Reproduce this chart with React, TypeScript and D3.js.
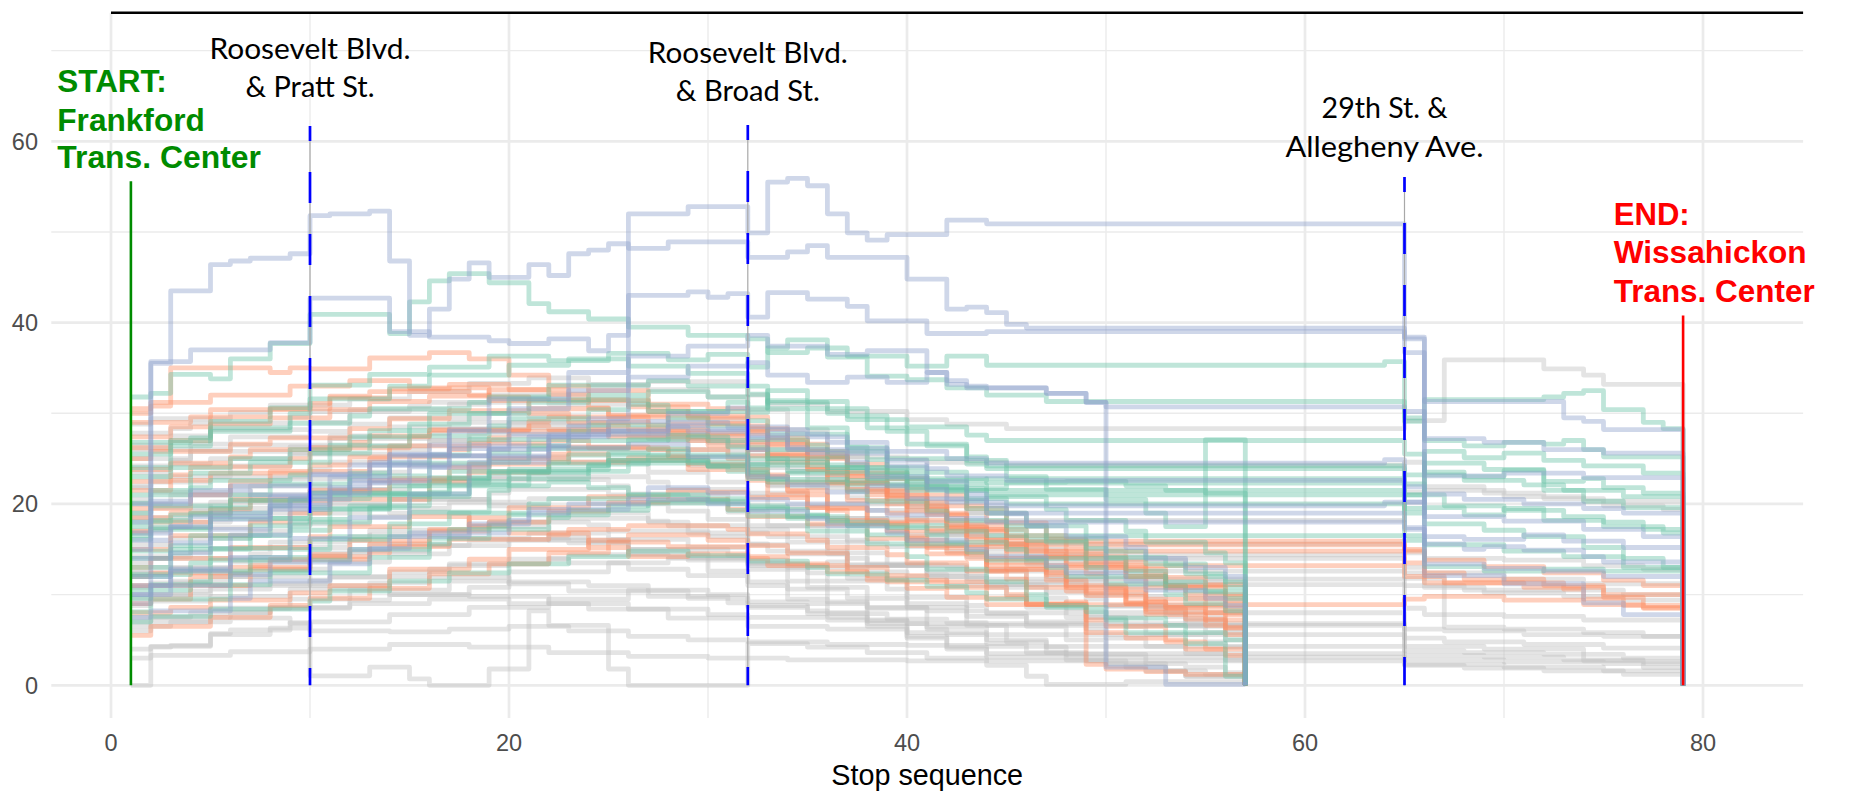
import React from "react";
import * as d3 from "d3";

type Pt = [number, number];

// ---------- axis ticks ----------
const xMajor = [0, 20, 40, 60, 80];
const xMinor = [10, 30, 50, 70];
const yMajor = [0, 20, 40, 60];
const yMinor = [10, 30, 50, 70];

// ---------- key stops ----------
const startStop = 1;
const endStop = 79;
const shortEnd = 57;
const keyStops = [10, 32, 65];

// ---------- trips: [stop, load after stop] change points ----------
const longBlue: Pt[][] = [
  [[1,12],[3,14.6],[5,17.2],[8,19.4],[11,21.8],[13,24.3],[17,26.1],[20,27.7],[23,28.6],[24,29.4],[26,52],[29,52.8],[32,49.9],[33,55.5],[34,55.9],[35,55.1],[36,52],[37,49.9],[38,49.1],[39,49.7],[42,51.3],[44,50.9],[65,38.2],[66,15.6],[68,15],[69,15.3],[71,14.9],[74,14.2],[75,13.6]],
  [[1,9],[2,35.5],[3,43.5],[5,46.4],[6,46.8],[7,47.1],[9,47.6],[10,51.8],[11,52],[13,52.3],[14,46.8],[15,38.6],[16,41.5],[17,44.8],[18,46.6],[19,45],[21,46.4],[22,45.2],[23,47.6],[24,48],[25,48.7],[26,48.2],[28,48.9],[32,47.2],[34,47.8],[35,48.5],[36,47.2],[40,44.8],[42,41.5],[43,41.7],[44,41.1],[45,39.8],[46,39.4],[65,36.7],[66,31.3],[73,29.5],[74,29.1],[75,28.2]],
  [[1,15],[2,35.7],[4,37],[8,37.8],[10,42.7],[14,39],[16,38.4],[19,38],[20,37.7],[22,38.2],[24,36.9],[25,38.6],[26,43],[29,43.4],[30,42.8],[31,43.2],[32,40.6],[33,43.3],[35,42.6],[37,41.8],[38,40.2],[41,38.8],[44,39],[65,38.4],[66,27.2],[69,26.8],[72,26],[75,25.6]],
  [[1,11],[3,12.8],[6,16.6],[9,20.5],[12,22.3],[14,25.4],[17,28.2],[19,31.6],[23,34.5],[26,36.3],[29,37.4],[32,38.6],[33,37.4],[36,36.5],[38,36.9],[41,34.5],[42,33.2],[43,32.8],[47,32.2],[49,31.2],[50,30.7],[65,30.2],[66,23.1],[70,23.4],[74,22.9]],
  [[1,14],[3,15.7],[5,18.3],[8,19.8],[10,21.2],[13,22.4],[15,24.1],[19,26],[22,27.4],[25,28.1],[28,29],[31,28.4],[32,26],[33,28.2],[35,27.4],[37,26.1],[39,24.2],[41,22.5],[43,21.1],[44,19.8],[64,20.2],[66,21.1],[68,20.5],[71,20],[74,19.5],[76,19]],
  [[1,18],[2,20.3],[4,21.5],[7,21],[10,23.3],[13,24.6],[16,26.5],[19,25.1],[22,26.2],[26,26.6],[29,25.2],[32,23],[34,22.1],[36,21.3],[38,22],[40,20.6],[44,19],[65,17.2],[66,12.1],[70,11.2],[74,9.1],[76,7.8]],
  [[1,10],[3,12.6],[6,14.1],[9,16.2],[12,18.5],[15,21.1],[18,24.6],[22,27.6],[25,29.1],[28,30],[31,30.6],[32,28.5],[34,27.7],[36,26.8],[39,25.8],[42,25],[44,24.5],[64,24.9],[65,20.2],[66,18.6],[70,18.1],[74,17.2],[77,16.4]],
  [[1,16.8],[3,17.5],[4,18.6],[8,19.9],[11,21.3],[12,22.6],[16,24],[17,25.3],[22,26.4],[23,27.7],[28,28.5],[29,28],[32,27.3],[34,26.2],[35,25.6],[39,24.8],[41,23.9],[42,23.1],[45,22.6],[65,21.9],[66,16.4],[68,16.1],[71,16.6],[73,15.9],[76,15.2]],
  [[1,7.5],[2,8.2],[6,9.6],[7,11.5],[11,13.4],[13,15.1],[15,16.8],[20,18.2],[21,19.4],[26,20.6],[27,21.8],[30,21.2],[32,20.5],[34,20],[38,19.3],[39,18.8],[42,18.4],[44,18],[65,17.4],[66,13.4],[69,12.9],[72,12.6],[75,12]],
];

const longGreen: Pt[][] = [
  [[1,31.8],[2,32.2],[3,34.3],[5,33.8],[6,36],[8,37.7],[10,40.9],[14,38.8],[15,42.3],[16,44.6],[17,45.4],[19,44.4],[21,42.1],[22,41.2],[24,40.4],[26,39.5],[29,38.6],[32,38.2],[33,36.7],[35,37.2],[37,36.3],[40,35.2],[42,36.3],[44,35.3],[64,35.7],[65,29.5],[66,31.5],[72,31.8],[73,32.2],[74,32.5],[75,30.4],[77,29],[78,28.3]],
  [[1,24],[3,26.4],[5,29.1],[8,30.6],[10,33.1],[13,34.3],[16,35.1],[19,36.3],[22,35.8],[25,36.6],[28,35.9],[30,36.5],[32,35.1],[33,37.2],[34,38.1],[36,36.2],[38,34.1],[40,33.7],[42,32.8],[44,32],[47,31.3],[65,29.1],[66,27],[68,26.4],[70,26.8],[72,26.6],[73,27],[74,26],[75,25.2]],
  [[1,20.1],[2,21.5],[4,23.4],[7,24.6],[11,26.5],[13,28.1],[16,30],[20,31.6],[22,33.1],[27,33.6],[29,33],[32,32.1],[33,31.2],[36,30],[37,29.3],[40,28.5],[43,27.6],[44,27],[65,25.5],[66,23.5],[68,23],[70,23.7],[72,22.5],[74,22.8],[75,21.8],[77,21.2]],
  [[1,16.1],[2,17.4],[5,19.5],[6,20.4],[10,21.2],[12,23.1],[16,25.4],[18,27.1],[23,28],[24,28.7],[28,29.5],[30,28.6],[32,27.1],[35,26.5],[36,25.8],[39,25],[43,24.4],[44,23.9],[65,21],[67,19.8],[70,19.3],[73,18.6],[75,18],[77,17.2]],
  [[1,13],[3,14.6],[4,16.5],[8,18.4],[10,19.4],[14,21.1],[17,22.8],[19,24.6],[21,26.1],[26,27.1],[29,27.4],[31,26.3],[32,25],[34,24.3],[38,23.5],[40,22.8],[44,22.3],[65,19.5],[66,17.8],[69,17.1],[71,16.4],[74,15.2],[76,14],[78,13]],
  [[1,9.6],[2,11.1],[6,12.4],[7,14.1],[10,16.1],[14,17.8],[15,19.1],[19,21.5],[20,22.8],[24,23.6],[26,24.5],[30,24.1],[32,23.5],[33,22.7],[37,22.2],[41,21.9],[43,21.5],[65,21],[66,24.5],[69,23.8],[72,21.5],[74,20.3],[76,19.6]],
  [[1,12.2],[4,13.5],[5,15.1],[9,17.1],[11,19.5],[14,21.1],[18,22.5],[20,23.8],[25,25.6],[27,26.1],[29,25.4],[32,24.3],[34,23.6],[38,22.8],[40,21.5],[44,21],[65,16.5],[66,15.5],[70,14.8],[73,14.2],[76,13]],
  [[1,8.1],[2,9.5],[6,11.1],[8,12.4],[13,14.1],[16,15.6],[17,17.2],[22,18.5],[23,19.3],[27,20.1],[31,19.3],[32,18.7],[36,18.2],[37,17.6],[42,17],[44,16.5],[65,16],[66,13.1],[69,12.6],[72,12.8],[75,12.6]],
  [[1,17.5],[2,18.2],[4,19],[8,19.8],[9,20.6],[13,21.2],[14,22],[18,22.6],[19,23.4],[24,24.2],[25,24.8],[30,24.2],[31,23.6],[32,22.8],[34,23.4],[37,22.6],[39,22],[42,21.4],[43,20.6],[45,20],[65,19],[66,23.2],[68,22.6],[71,22.1],[73,21.5],[76,20.8]],
  [[1,14.8],[3,15.4],[5,16.2],[7,17.6],[10,18.3],[12,19.8],[16,21.3],[17,22.1],[21,23.5],[22,24.4],[27,25.3],[29,24.6],[32,23.8],[33,24.6],[36,24],[38,23.2],[40,22.6],[44,22.8],[65,22.2],[66,19.6],[68,18.8],[70,19.5],[72,18.2],[75,17.5],[78,16.8]],
  [[1,21],[4,21.8],[5,22.6],[9,23.2],[10,25.6],[13,26.4],[15,27.5],[19,28.6],[20,29.4],[24,30.4],[26,31],[27,30.2],[31,31.2],[32,30.1],[33,31.4],[35,30.5],[38,28.4],[40,26.6],[43,25.2],[44,24.2],[65,23.2],[66,25.8],[68,25.1],[70,25.6],[72,24.8],[74,24.2],[77,23.4]],
];

const longGrey: Pt[][] = [
  [[1,26.5],[3,27.5],[5,28.2],[10,29],[12,30.4],[17,31],[19,32],[24,33],[27,33.5],[32,32],[33,31],[36,30.2],[40,29.3],[42,28.8],[45,28.3],[65,29.2],[67,35.9],[72,34.9],[74,34.2],[75,33.2]],
  [[1,22],[2,23],[6,24.2],[9,25.5],[14,26],[16,27],[20,27.5],[22,28],[26,27.5],[28,27],[31,25.5],[32,24],[35,23],[37,21.6],[39,20.5],[43,19],[45,18.2],[65,21.3],[66,21.5],[70,20.8],[74,20.3]],
  [[1,25],[4,26],[6,26.5],[11,27.5],[14,28.5],[17,29],[23,28.6],[25,27.6],[29,26],[32,24.5],[33,22],[36,20],[38,18.3],[41,16.8],[42,15.4],[44,14],[65,13],[66,12.4],[70,11.7],[74,11.2]],
  [[1,6],[2,7],[5,8.5],[9,9.5],[12,10.5],[17,11.5],[20,12.5],[25,13.5],[28,14],[32,13.5],[34,13],[38,12.5],[40,12],[44,11.7],[65,11],[68,10.5],[72,10.5],[76,10]],
  [[1,20],[3,21],[7,22],[11,21],[14,20.5],[19,19.8],[22,19],[27,18],[29,16.8],[32,15.5],[34,14.5],[37,13.2],[41,12],[43,11.4],[45,11.1],[65,8.5],[66,7.8],[70,7.6],[74,7.2]],
  [[1,4],[2,4.3],[5,5.6],[8,6.3],[10,7],[14,7.8],[18,8.6],[22,9.5],[26,10.5],[30,10],[32,9.2],[35,9],[38,8.5],[41,8.2],[44,8],[65,6.2],[67,6],[71,5.6],[75,5.4]],
  [[1,11],[3,11.5],[6,12],[10,11],[14,10],[18,9.8],[22,9],[26,8.4],[30,7.8],[32,7.5],[36,7.2],[40,6.8],[44,6.6],[65,4.3],[69,4],[74,2.7],[77,1.95]],
  [[1,7.5],[4,8],[8,8.5],[12,9],[16,9.5],[20,9],[24,8.4],[28,7.4],[32,6.5],[36,6.2],[40,5.8],[44,5.6],[65,3.8],[68,3.6],[72,3.4],[76,3]],
  [[1,0],[2,4.2],[3,4.4],[5,5.7],[6,6.1],[9,6.9],[10,6],[14,5.9],[17,6.2],[20,6.5],[23,6],[26,5.4],[29,5],[32,4.8],[36,4.5],[40,4.4],[44,4.3],[65,3.3],[69,3.1],[73,2.8],[77,2.6]],
  [[1,3],[2,3.3],[6,3.7],[10,4],[14,4.5],[18,4.2],[22,3.6],[26,3.2],[30,3],[34,2.8],[40,2.7],[65,2.3],[70,2],[75,1.6]],
  [[1,17],[3,18],[6,19.5],[10,20],[14,19],[18,17.5],[22,16],[26,14.5],[30,12.6],[32,11],[34,9.5],[36,8],[38,6.5],[40,5.2],[42,4.2],[44,3.5],[65,2.8],[70,2.6],[75,2.4]],
  [[1,13.5],[2,14],[7,14.5],[8,15.2],[12,16],[13,16.6],[18,17.3],[19,18],[22,18.4],[27,18.1],[28,17.6],[32,16.8],[33,16.4],[37,15.8],[39,15.3],[42,14.8],[44,14.4],[65,12.4],[66,10.8],[69,10.2],[73,9.8],[76,9.4]],
  [[1,24.2],[3,24.8],[4,25.8],[9,26.3],[11,27.2],[16,27.8],[17,28.3],[20,28.9],[25,28.2],[26,27.6],[30,26.8],[32,26],[35,25.8],[36,25.2],[40,24.9],[41,24.6],[45,24.3],[65,24.6],[66,21.9],[69,21.2],[72,20.6],[75,19.8],[78,19.4]],
  [[1,10],[4,10.4],[5,11],[10,11.6],[11,12],[16,12.8],[17,13.4],[22,14],[23,14.4],[28,14.1],[29,13.8],[32,13.2],[36,13.6],[37,13.3],[42,13],[43,12.6],[65,11.8],[67,6.4],[70,6.2],[74,5.8],[77,5.4]],
  [[1,19],[2,19.6],[6,20.4],[7,21],[10,21.6],[15,22.4],[16,22.8],[21,23.3],[22,23],[27,22.4],[28,21.6],[32,20.8],[33,19.6],[35,18.4],[39,17.4],[40,16.6],[44,16],[45,15.6],[65,14.6],[66,14],[70,13.8],[74,13.2],[77,12.8]],
  [[1,12.4],[3,12.9],[6,13.8],[10,14.6],[13,15.5],[17,16.2],[21,16.8],[25,16.1],[29,15.2],[32,13.8],[34,11.5],[36,9.2],[38,7.1],[40,5.4],[42,4],[44,3.1],[65,2.2],[68,1.9],[72,1.6],[76,1.2]],
  [[1,8.8],[2,9.3],[5,9.8],[9,10.6],[13,11.3],[16,11.9],[20,11.2],[23,10.4],[27,9.8],[31,9.1],[32,8.6],[35,7.9],[39,7.3],[42,6.9],[44,6.8],[65,5.2],[67,4.8],[71,4.5],[75,4.1]],
];

const longOrange: Pt[][] = [
  [[1,30.5],[2,30.8],[3,35],[8,34.5],[9,35],[10,34.9],[13,36.1],[16,36.7],[18,36],[20,34.2],[22,33],[24,32.5],[27,31],[30,30.5],[32,29.6],[33,27.3],[35,25.3],[37,23],[39,21],[41,19],[43,17],[45,15.5],[65,14.8],[66,11.3],[73,10.6],[74,9.5],[76,8.8]],
  [[1,27.4],[3,28.5],[5,29.6],[8,30.5],[11,31.7],[14,32.7],[17,33.2],[20,32.6],[23,31.5],[26,30.7],[29,29.5],[32,28.3],[34,26],[36,23.5],[38,21.4],[40,19.7],[42,17.5],[44,16],[45,14.8],[65,13.5],[66,12.4],[68,11.7],[72,11],[75,9.7],[77,8.5]],
  [[1,18.5],[3,19],[6,20.5],[10,21.5],[14,22.8],[18,23.5],[22,24.6],[26,25.1],[30,24.2],[32,23.2],[34,21.5],[36,19.5],[38,17.8],[40,16],[42,14.6],[44,13.2],[65,12],[67,11.3],[71,10.8],[75,10]],
  [[1,5.5],[2,6.5],[5,7.5],[8,8.8],[10,9.6],[13,10.7],[16,12.3],[19,13.4],[22,14.6],[25,15.8],[28,15.3],[32,14.2],[34,13.4],[36,12.5],[38,11.6],[40,10.7],[42,9.7],[44,8.9],[65,9.5],[66,9.8],[70,9.4],[74,8.9],[77,8.6]],
  [[1,22.5],[3,23.2],[4,24.1],[9,25],[10,26.2],[15,27.4],[16,28.2],[21,29.1],[22,29.6],[27,28.7],[28,27.8],[32,26.9],[33,25.4],[35,23.8],[37,22.3],[39,20.6],[41,18.8],[43,17.2],[45,15.9],[65,15],[66,13.8],[69,13.1],[72,12.4],[75,11.6],[77,11]],
];

const shortBlue: Pt[][] = [
  [[1,16],[3,17.5],[5,19],[8,20.8],[11,23],[14,25.5],[17,28],[20,30.5],[23,32.5],[26,34],[29,35.2],[32,35.6],[33,34.2],[35,33.4],[37,34],[39,33.4],[41,34.5],[42,33.6],[43,33],[44,32.8],[47,32.2],[49,31.2],[50,2],[53,0.1]],
  [[1,10],[2,11],[6,12.2],[8,13.6],[12,15],[14,16.4],[18,17.8],[21,19],[23,20],[27,20.5],[30,20],[32,19.2],[35,18.4],[36,17.6],[39,16.8],[40,16],[43,15],[44,14.2],[47,13.2],[48,12.4],[51,11.5],[52,10.5],[55,9.6],[56,8.8]],
  [[1,20],[4,21],[6,22],[10,23.2],[12,24.3],[15,25.3],[19,26.4],[21,27.4],[24,28],[28,28.6],[30,28.2],[32,27.6],[34,26],[37,24.6],[38,23],[41,21.6],[42,20.2],[45,18.9],[46,17.6],[48,16.4],[51,15.2],[52,14],[54,13],[56,12]],
];

const shortGreen: Pt[][] = [
  [[1,23],[3,24],[6,25],[9,26],[12,27.4],[15,28.8],[18,30],[21,31.2],[24,32],[27,32.4],[30,31.8],[32,30.6],[33,32.5],[35,31.3],[37,29.7],[39,28],[41,26.4],[43,24.8],[45,23],[47,21.6],[50,20.5],[52,19],[53,17.5],[55,27.1]],
  [[1,16.5],[2,17.2],[5,18.4],[10,19.6],[11,21],[16,22.4],[17,23.6],[22,24.6],[23,25.4],[28,25.8],[29,25.2],[32,24.4],[33,26],[36,25.2],[37,24],[40,23],[41,22.3],[43,21.7],[45,22.4],[48,22.5],[51,22],[53,21.5],[55,21.2]],
  [[1,10.5],[4,11.4],[5,12.6],[10,13.8],[12,15],[16,16.2],[19,17.6],[20,18.8],[25,19.8],[27,20.4],[31,20],[32,19.4],[35,18.8],[36,18],[39,17.4],[41,16.6],[42,15.8],[45,15],[46,14],[49,13],[50,12],[53,11],[54,10.4],[56,9.6]],
  [[1,14],[3,15],[7,16.5],[9,18],[13,19.6],[15,20.8],[18,22],[22,22.4],[24,21.8],[26,21],[30,20.3],[32,19.6],[34,18.6],[37,17.6],[38,16.6],[40,15.6],[43,14.7],[44,13.8],[47,13],[48,12],[50,11.2],[53,10],[54,9],[56,8.2]],
  [[1,19],[2,19.8],[6,21],[8,22.2],[12,23.4],[14,24.5],[19,25.6],[21,26.4],[23,27],[28,27.6],[30,27],[32,26.2],[33,25],[36,24],[39,23],[40,21.8],[43,20.4],[44,19],[46,17.6],[49,16.2],[50,14.8],[52,13.4],[55,12],[56,10.8]],
  [[1,12],[3,12.6],[5,13.8],[9,15],[11,16.4],[15,17.8],[17,19],[21,20],[22,20.6],[26,21],[29,20.6],[32,19.8],[34,18.4],[35,17],[38,15.6],[40,14.2],[41,12.8],[44,11.4],[46,10],[47,8.6],[50,7.2],[51,5.8],[54,4.6],[56,1]],
  [[1,18],[3,18.8],[6,19.6],[7,20.4],[10,21.2],[15,22],[16,22.9],[19,23.6],[24,24.3],[25,24.8],[30,24.2],[32,23.3],[33,22.4],[37,21.4],[38,20.3],[41,19.2],[42,18.2],[45,17.1],[46,16],[49,15.1],[50,14.1],[53,13.2],[54,12.3],[56,11.4]],
  [[1,26.8],[4,27.3],[5,28],[9,28.9],[12,29.7],[13,30.5],[18,31.2],[19,31.8],[22,31.5],[27,30.9],[28,30.2],[32,29.2],[33,27.7],[37,26.3],[38,24.9],[39,23.5],[43,22.1],[44,20.8],[47,19.4],[48,18.2],[51,17],[52,15.8],[55,14.6],[56,13.5]],
  [[1,7],[2,7.6],[5,8.4],[10,9.3],[11,10.4],[14,11.5],[17,12.4],[20,13.4],[23,14.2],[26,14.8],[29,14.3],[32,13.7],[35,13],[36,12.3],[39,11.6],[41,10.9],[43,10.2],[44,9.5],[47,8.8],[49,8.1],[50,7.4],[53,6.6],[54,5.8],[56,5]],
  [[1,25.5],[3,27],[5,28.4],[9,30],[10,31.6],[14,33],[16,34.2],[20,35.3],[23,36],[26,35.2],[29,34.4],[32,33],[33,30.5],[35,28.4],[37,26.2],[39,24],[41,21.6],[43,19.5],[45,17.6],[47,15.8],[49,14],[51,12.6],[53,11.4],[55,10.3]],
];

const shortGrey: Pt[][] = [
  [[1,23.5],[3,24.4],[5,25],[9,25.6],[11,26.4],[16,27],[18,27.8],[20,28.4],[25,28],[27,27.2],[31,26.4],[32,25.4],[34,23.6],[35,21.8],[38,20],[40,18.4],[41,16.8],[44,15],[46,13.4],[47,12],[50,10.8],[52,9.8],[53,8.8],[56,8.2]],
  [[1,20.5],[2,21.3],[6,22],[8,22.8],[13,23.5],[15,24.3],[19,25],[21,25.2],[23,24.6],[27,23.5],[30,22.4],[32,21.2],[35,19.8],[36,18.4],[39,17],[40,15.6],[43,14.2],[44,12.7],[46,11.4],[49,10],[50,8.7],[53,7.6],[54,6.5],[56,5.8]],
  [[1,26],[4,26.6],[6,27.4],[10,28],[12,28.8],[14,29.5],[19,30],[21,29.6],[24,29],[26,28.4],[30,27.6],[32,26.7],[33,25],[36,23.2],[37,21.4],[40,19.7],[42,18],[45,16.4],[46,15],[48,13.7],[51,12.4],[52,11.3],[55,10.2],[56,9.4]],
  [[1,6.5],[3,7],[6,7.4],[9,6.8],[10,1.05],[13,2],[15,0.7],[16,0],[19,1.8],[21,8.2],[22,6.6],[25,1.8],[26,0],[32,4.6],[35,4.2],[38,3.6],[41,3],[44,2.2],[46,1],[47,0.1],[51,0.4]],
  [[1,7],[2,7.5],[6,8],[8,8.6],[12,9.4],[14,10],[18,10.8],[20,11.4],[24,11],[27,10.4],[29,9.6],[32,8.8],[35,8.2],[36,7.5],[38,6.8],[41,6.2],[42,5.6],[44,5],[47,4.2],[48,3.4],[50,2.4],[53,1.6],[54,1]],
  [[1,15.5],[3,16.2],[7,17],[9,17.8],[13,18.6],[15,19.5],[17,20.2],[21,20.6],[24,20],[28,19.2],[30,18.3],[32,17.2],[34,15.8],[37,14.6],[38,13.4],[41,12.2],[42,11],[45,9.8],[46,8.6],[48,7.5],[51,6.5],[52,5.6],[55,4.8],[56,4.2]],
  [[1,12.5],[2,13],[6,13.6],[10,14.2],[12,14.8],[16,15.4],[18,16],[22,16.3],[24,15.8],[26,15],[31,14.3],[32,13.4],[35,12.4],[36,11.5],[39,10.6],[40,9.7],[43,8.8],[44,7.9],[46,7],[49,6.2],[50,5.2],[52,4.3],[54,3.5],[56,2.8]],
  [[1,9.5],[2,10],[5,10.6],[8,11.2],[11,11.9],[14,12.5],[17,13.2],[20,13.9],[23,13.5],[26,12.8],[29,12.1],[32,11.4],[34,10.6],[37,9.6],[40,8.6],[43,7.6],[46,6.5],[48,5],[50,3.4],[52,2.4],[54,2],[56,1.4]],
  [[1,18.5],[4,19.2],[5,20.2],[10,21],[11,21.6],[14,22.3],[19,23],[20,22.7],[25,22],[26,21.1],[31,20.2],[32,19.2],[33,17.6],[37,16],[38,14.6],[39,13.2],[43,12],[44,10.8],[47,9.6],[48,8.5],[49,7.5],[52,6.6],[55,5.8],[56,5]],
  [[1,10.8],[2,11.3],[5,12],[8,12.8],[11,13.6],[14,14.5],[17,15.4],[20,16.1],[23,15.7],[26,15],[29,14.1],[32,12.8],[35,10.8],[38,8.6],[41,6.4],[44,4.6],[46,3.6],[48,2.8],[50,2.2],[52,1.6],[54,1]],
  [[1,27.8],[3,28.3],[4,28.9],[9,29.6],[10,30.2],[15,30.8],[16,31.2],[21,31.5],[22,31],[27,30.2],[28,29.3],[32,28.2],[34,26.8],[35,25.2],[38,23.7],[39,22.1],[42,20.5],[43,19],[46,17.5],[47,16.2],[49,15],[51,13.8],[54,12.6],[55,11.5]],
  [[1,14.2],[4,14.7],[5,15.1],[8,15.8],[12,16.4],[13,17.1],[18,17.5],[19,18],[24,17.7],[25,17],[30,16.4],[32,15.6],[33,14.8],[37,14],[38,13.2],[41,12.5],[43,11.8],[44,11.1],[47,10.3],[49,9.5],[50,8.8],[53,8],[54,7.1],[56,6.2]],
  [[1,16.8],[2,17.4],[7,18.2],[8,19],[13,19.8],[14,20.5],[19,21.2],[20,21.6],[25,21],[26,20.2],[31,19.1],[32,17.6],[36,14.5],[37,11.8],[40,9],[43,6.6],[45,4.8],[47,3.6],[49,2.7],[51,2],[53,1.6],[55,1.2]],
  [[1,21.8],[2,22.4],[5,23],[10,23.8],[11,24.6],[14,25.3],[19,26],[20,26.4],[23,26],[28,25.2],[29,24.3],[32,23.4],[33,22.1],[37,20.7],[38,19.3],[41,18],[42,16.6],[45,15.4],[46,14.2],[49,13],[50,11.8],[53,10.7],[54,9.6],[56,8.7]],
  [[1,28.8],[2,29.4],[6,30.1],[8,30.9],[12,31.6],[15,32.4],[18,33.3],[21,33.9],[24,33.2],[27,32.6],[30,31.8],[32,30.4],[34,28.2],[36,25.6],[38,22.8],[40,20],[42,17.8],[44,15.6],[46,13.6],[48,11.6],[50,10],[52,8.6],[54,7.4],[56,6.6]],
];

const shortOrange: Pt[][] = [
  [[1,30],[2,31.2],[5,32],[9,33],[12,33.6],[15,32.8],[19,31.8],[21,30.5],[25,29.6],[28,28.8],[32,27.8],[33,25.5],[35,24.1],[36,22.4],[39,20],[40,18.2],[43,16.1],[45,14],[47,12.4],[48,10.8],[51,9.2],[53,8.6],[55,8]],
  [[1,19.5],[4,21],[6,22.5],[8,23.6],[13,25],[14,26.4],[19,27.3],[20,28],[25,28.6],[26,28.2],[30,27.5],[32,26.5],[35,25.2],[37,23],[38,21],[41,19.4],[42,17.4],[44,15.6],[46,14.1],[49,12.3],[50,10.6],[52,9.5],[55,8],[56,7.2]],
  [[1,15],[3,16.5],[7,18],[9,19],[11,20.5],[16,22.5],[18,24.4],[22,25.5],[23,26.3],[27,26],[31,25],[32,23.8],[33,22.4],[37,20.4],[39,19],[40,17],[43,15.5],[44,13.6],[47,12.2],[48,11],[51,9.8],[52,8.4],[54,7.3],[56,6.4]],
  [[1,9],[2,9.5],[4,11],[7,12.8],[10,14.2],[13,15.6],[16,17],[19,18],[22,19.2],[25,20.2],[28,20.5],[31,19.4],[32,18.6],[35,17.8],[38,16.2],[41,14.5],[44,12.6],[46,9],[49,5.8],[51,5.2],[53,4.8],[55,4]],
  [[1,13],[2,14],[6,15.2],[10,16.4],[11,17.5],[15,18.6],[18,17.6],[20,16.8],[24,15.2],[26,14.2],[29,14.5],[32,14],[33,13.2],[37,12.5],[38,12.1],[41,11.6],[42,10.8],[45,10],[46,8.9],[49,7.2],[50,6.5],[53,5],[54,4],[56,3.3]],
  [[1,21.5],[3,22.6],[5,23.4],[10,24.3],[12,25.2],[17,26],[18,26.7],[22,27],[24,26.2],[28,25.3],[29,24.4],[32,23],[34,21.4],[35,19.6],[38,18],[41,17.3],[43,16.4],[44,15.3],[47,14.2],[48,13],[51,12],[53,11],[54,10],[56,9.3]],
  [[1,25],[2,25.8],[6,26.6],[8,27.3],[12,28.3],[14,29.4],[17,30.3],[21,30],[23,29],[27,28],[29,27],[32,26],[33,24.6],[36,23.2],[37,21.6],[40,20.2],[42,18.8],[43,17.2],[46,15.8],[47,14.4],[50,13],[52,12],[53,10.8],[56,9.8]],
  [[1,8],[3,8.6],[5,9.4],[9,10.2],[11,11],[14,12.8],[18,13.9],[20,15],[24,16],[26,16.6],[30,16],[32,15.4],[34,14.6],[37,13],[39,11.4],[44,9.6],[46,8.9],[48,9.2],[49,2.3],[50,1.8],[52,1.5],[54,1.2]],
  [[1,17],[2,18],[5,19.4],[7,20.4],[11,21.4],[13,22.6],[17,24],[19,25],[23,25.5],[25,24.8],[29,23.8],[32,22.6],[33,21],[36,19.3],[37,17.8],[40,16.4],[41,15.2],[44,14],[45,12.8],[48,11.6],[49,10.2],[52,9.2],[53,8.6],[56,7.8]],
  [[1,11],[4,12],[6,13],[10,14.4],[12,16],[16,17.2],[18,18.5],[20,19.6],[24,20.8],[28,21.5],[30,21.3],[32,20.7],[35,19.6],[36,18.2],[39,17],[40,15.4],[43,14],[44,12.8],[47,11.6],[48,10.4],[51,9],[52,7.8],[55,6.6],[56,5.6]],
  [[1,29],[4,29.6],[5,30.4],[10,31.1],[11,31.9],[13,32.4],[18,32],[19,31.4],[24,30.6],[25,29.8],[30,28.9],[32,28],[33,26.6],[36,25],[37,23.4],[40,21.6],[41,19.8],[44,18.1],[45,16.5],[48,15],[49,13.6],[52,12.2],[53,11],[56,10]],
  [[1,12],[2,12.4],[7,13.2],[8,13.9],[13,14.6],[14,15.3],[17,16.1],[22,16.6],[23,17.2],[26,17.6],[31,17.2],[32,16.7],[35,16],[36,15.2],[39,14.4],[40,13.5],[43,12.6],[45,11.7],[46,10.8],[49,9.9],[51,9],[52,8.1],[55,7.2],[56,6.3]],
  [[1,23.8],[3,24.5],[6,25.2],[7,26],[12,26.8],[13,27.5],[16,28.1],[21,28.6],[22,28.2],[25,27.4],[30,26.5],[32,25.3],[35,23.8],[36,22.3],[39,20.9],[40,19.2],[42,17.7],[45,16.3],[46,14.8],[48,13.4],[51,12],[52,10.8],[55,9.5],[56,8.5]],
  [[1,26.2],[3,27],[5,28.8],[8,29.5],[11,30.4],[13,31.3],[16,31.9],[19,32.6],[22,32.1],[24,31.4],[27,30.2],[29,29.7],[32,28.6],[33,27],[35,25.8],[37,24.4],[39,22.8],[41,21],[43,19.5],[45,17.9],[47,16.1],[49,14.2],[51,12.8],[53,11.9],[55,11.1]],
];

// ---------- annotation texts ----------
const stationLabels = [
  { stop: 10, lines: ["Roosevelt Blvd.", "& Pratt St."] },
  { stop: 32, lines: ["Roosevelt Blvd.", "& Broad St."] },
  { stop: 64, lines: ["29th St. &", "Allegheny Ave."] },
];
const startLines = ["START:", "Frankford", "Trans. Center"];
const endLines = ["END:", "Wissahickon", "Trans. Center"];

const W = 1862;
const H = 792;
const x = d3.scaleLinear().domain([0, 80]).range([111, 1703]);
const y = d3.scaleLinear().domain([0, 60]).range([685.3, 141.3]);
const PX0 = x(-3);
const PX1 = x(85.03);
const PY0 = y(74.18);
const PY1 = y(-3.6);

const COLORS = { blue: "#8da0cb", green: "#66c2a5", orange: "#fc8d62", grey: "#bebebe" };

export default function App() {
  const line = d3
    .line<Pt>()
    .x((d) => x(d[0]))
    .y((d) => y(d[1]))
    .curve(d3.curveStepAfter);

  const groups = [
    { c: COLORS.grey, trips: longGrey, end: endStop },
    { c: COLORS.grey, trips: shortGrey, end: shortEnd },
    { c: COLORS.orange, trips: longOrange, end: endStop },
    { c: COLORS.orange, trips: shortOrange, end: shortEnd },
    { c: COLORS.green, trips: longGreen, end: endStop },
    { c: COLORS.green, trips: shortGreen, end: shortEnd },
    { c: COLORS.blue, trips: longBlue, end: endStop },
    { c: COLORS.blue, trips: shortBlue, end: shortEnd },
  ];

  const tickFont = "'Liberation Sans', Arial, sans-serif";
  const labelFont = "Lato, 'Open Sans', sans-serif";

  const stationWidths = [
    [201, 129],
    [200, 144],
    [126, 198],
  ];
  const stationBase = [
    [59.3, 97.3],
    [63.3, 100.7],
    [118.3, 156.7],
  ];
  const stationTop = [y(61.7), y(61.8), y(56.05)];
  const startWidths = [109.5, 147.5, 203.6];
  const startBase = [91.7, 131, 168.3];
  const endWidths = [76, 193, 201];
  const endBase = [225, 263.3, 301.7];

  return (
    <svg width={W} height={H} style={{ position: "absolute", left: 0, top: 0, background: "#fff" }}>
      <rect x={0} y={0} width={W} height={H} fill="#ffffff" />
      {yMinor.map((v) => (
        <line key={"ym" + v} x1={PX0} x2={PX1} y1={y(v)} y2={y(v)} stroke="#ebebeb" strokeWidth={1.4} />
      ))}
      {xMinor.map((v) => (
        <line key={"xm" + v} x1={x(v)} x2={x(v)} y1={PY0} y2={PY1} stroke="#ebebeb" strokeWidth={1.4} />
      ))}
      {yMajor.map((v) => (
        <line key={"yM" + v} x1={PX0} x2={PX1} y1={y(v)} y2={y(v)} stroke="#ebebeb" strokeWidth={2.7} />
      ))}
      {xMajor.map((v) => (
        <line key={"xM" + v} x1={x(v)} x2={x(v)} y1={PY0} y2={PY1} stroke="#ebebeb" strokeWidth={2.7} />
      ))}

      {groups.map((g, gi) =>
        g.trips.map((t, ti) => (
          <path
            key={gi + "-" + ti}
            d={line([...t, [g.end, 0]]) || ""}
            fill="none"
            stroke={g.c}
            strokeOpacity={0.42}
            strokeWidth={4.8}
            strokeLinejoin="round"
          />
        ))
      )}

      {keyStops.map((s, i) => (
        <g key={"k" + s}>
          <line x1={x(s)} x2={x(s)} y1={stationTop[i]} y2={y(0)} stroke="#a8a8a8" strokeWidth={1.2} />
          <line
            x1={x(s)}
            x2={x(s)}
            y1={stationTop[i]}
            y2={y(0)}
            stroke="#0000ff"
            strokeWidth={2.7}
            strokeDasharray="31 31"
            strokeDashoffset={16}
          />
        </g>
      ))}
      <line x1={x(startStop)} x2={x(startStop)} y1={y(55.6)} y2={y(0)} stroke="#008b00" strokeWidth={2.6} />
      <line x1={x(endStop)} x2={x(endStop)} y1={y(40.8)} y2={y(0)} stroke="#ff0000" strokeWidth={2.6} />

      <line x1={x(0)} x2={PX1} y1={PY0} y2={PY0} stroke="#000" strokeWidth={2.4} />

      {stationLabels.map((s, i) =>
        s.lines.map((txt, li) => (
          <text
            key={"s" + i + li}
            x={x(s.stop)}
            y={stationBase[i][li]}
            textAnchor="middle"
            fontFamily={labelFont}
            fontSize={29}
            fill="#000"
            textLength={stationWidths[i][li]}
            lengthAdjust="spacingAndGlyphs"
          >
            {txt}
          </text>
        ))
      )}
      {startLines.map((txt, i) => (
        <text
          key={"st" + i}
          x={57.3}
          y={startBase[i]}
          fontFamily={tickFont}
          fontWeight="bold"
          fontSize={31}
          fill="#008b00"
          textLength={startWidths[i]}
          lengthAdjust="spacingAndGlyphs"
        >
          {txt}
        </text>
      ))}
      {endLines.map((txt, i) => (
        <text
          key={"en" + i}
          x={1613.7}
          y={endBase[i]}
          fontFamily={tickFont}
          fontWeight="bold"
          fontSize={31}
          fill="#ff0000"
          textLength={endWidths[i]}
          lengthAdjust="spacingAndGlyphs"
        >
          {txt}
        </text>
      ))}

      {yMajor.map((v) => (
        <text key={"yl" + v} x={38} y={y(v) + 8.4} textAnchor="end" fontFamily={tickFont} fontSize={23.5} fill="#4d4d4d">
          {v}
        </text>
      ))}
      {xMajor.map((v) => (
        <text key={"xl" + v} x={x(v)} y={751} textAnchor="middle" fontFamily={tickFont} fontSize={23.5} fill="#4d4d4d">
          {v}
        </text>
      ))}
      <text x={(PX0 + PX1) / 2} y={785} textAnchor="middle" fontFamily={tickFont} fontSize={28.75} fill="#000">
        Stop sequence
      </text>
    </svg>
  );
}
